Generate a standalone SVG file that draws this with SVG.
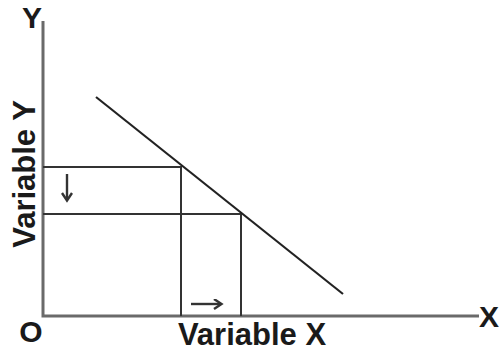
<svg xmlns="http://www.w3.org/2000/svg" width="500" height="356" viewBox="0 0 500 356">
<style>
.axis{stroke:#6a6a6a;stroke-width:3;fill:none}
.guide{stroke:#333;stroke-width:2;fill:none}
.curve{stroke:#222;stroke-width:2.2;fill:none}
.lbl{font-family:"Liberation Sans",Arial,sans-serif;font-weight:bold;font-size:30px;fill:#1a1a1a}
.big{font-size:31px}
.arr{stroke:#333;stroke-width:2.4;fill:none}
</style>
<defs>
<marker id="ah" markerWidth="12" markerHeight="12" refX="8" refY="5.5" orient="auto" markerUnits="userSpaceOnUse">
<path d="M1,0.5 L8.5,5.5 L1,10.5" fill="none" stroke="#333" stroke-width="2.4"/>
</marker>
</defs>
<rect width="500" height="356" fill="#fff"/>
<g id="axes">
<path class="axis" d="M43,21 V316 H479"/>
</g>
<g id="connectors">
<path class="guide" d="M43,167 H181 V316"/>
<path class="guide" d="M43,214 H241 V316"/>
<path class="curve" d="M96,97 L343,294"/>
<path class="arr" d="M67,174 V200" marker-end="url(#ah)"/>
<path class="arr" d="M191,304 H221" marker-end="url(#ah)"/>
</g>
<g id="labels">
<text class="lbl" x="32" y="28" text-anchor="middle">Y</text>
<text class="lbl" x="489" y="327" text-anchor="middle">X</text>
<text class="lbl" x="31" y="342" text-anchor="middle">O</text>
<text class="lbl big" x="252" y="345" text-anchor="middle">Variable X</text>
<text class="lbl big" transform="translate(35,174) rotate(-90)" x="0" y="0" text-anchor="middle">Variable Y</text>
</g>
</svg>
